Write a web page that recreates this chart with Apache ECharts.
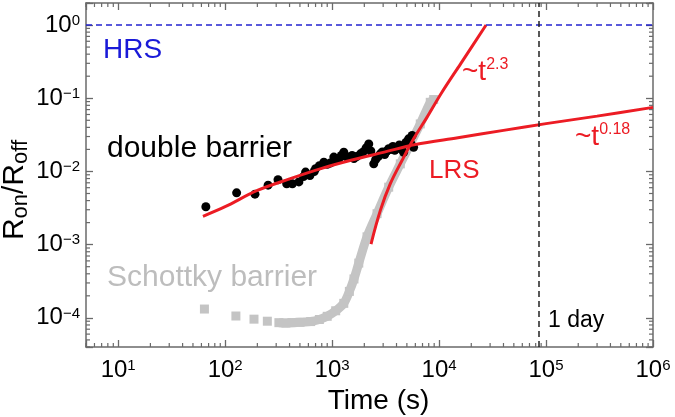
<!DOCTYPE html>
<html><head><meta charset="utf-8">
<script src="https://cdn.jsdelivr.net/npm/echarts@6/dist/echarts.min.js"></script>
<style>html,body{margin:0;padding:0;background:#fff}#c{width:675px;height:417px}</style>
</head><body><div id="c"></div>
<script>
// ---- data ----
const xRange = [5, 1e6];
const yRange = [4e-5, 2];
const hrsLevel = 1;
const oneDay = 86400;

const doubleT = [66,128,190,252,312,376,425,489,540,565,620,680,700,760,837,900,960,1037,1100,1160,1220,1286,1350,1420,1538,1600,1700,1840,1950,2080,2200,2300,2450,2550,2700,2825,2950,3100,3250,3380,3550,3700,3850,4045,4250,4450,4660,4900,5190,5450,5600,5780];
const doubleR = [3.3e-3,5.1e-3,4.9e-3,6.5e-3,7.7e-3,6.8e-3,6.8e-3,7.2e-3,8.5e-3,9.8e-3,8.8e-3,1.0e-2,1.09e-2,1.2e-2,1.34e-2,1.25e-2,1.3e-2,1.57e-2,1.45e-2,1.5e-2,1.65e-2,1.83e-2,1.6e-2,1.55e-2,1.65e-2,1.5e-2,1.6e-2,1.74e-2,1.85e-2,2.1e-2,2.38e-2,1.9e-2,1.27e-2,1.45e-2,1.6e-2,1.74e-2,1.85e-2,1.7e-2,1.9e-2,2.04e-2,2.0e-2,2.2e-2,1.95e-2,2.14e-2,2.3e-2,2.0e-2,1.83e-2,2.5e-2,2.79e-2,2.4e-2,3.1e-2,2.14e-2];

const schottkyT = [64,126,186,248,318,370,420,500,630,760,900,1080,1285,1450,1600,1775,2120,2630,3380,4340,5380,6670,8270,8900];
const schottkyR = [1.32e-4,1.06e-4,9.6e-5,9.0e-5,8.6e-5,8.5e-5,8.6e-5,8.7e-5,8.9e-5,9.5e-5,1.05e-4,1.25e-4,1.58e-4,2.3e-4,3.4e-4,5.6e-4,1.28e-3,2.65e-3,6.1e-3,1.27e-2,2.38e-2,4.46e-2,8.8e-2,9.6e-2];
const schottkyDenseFrom = 4;

const fitSlowT = [62,100,200,400,800,1500,3000,6000,15000,40000,100000,300000,1000000];
const fitSlowR = [2.44e-3,3.3e-3,5.5e-3,7.9e-3,1.1e-2,1.42e-2,1.82e-2,2.33e-2,2.89e-2,3.64e-2,4.5e-2,5.7e-2,7.5e-2];

const fitFastT = [2310,2825,3500,4500,5780,7700,10600,16000,27500];
const fitFastR = [1.02e-3,2.94e-3,6.8e-3,1.41e-2,2.79e-2,5.48e-2,0.12,0.30,1.0];

// ---- styles ----
const RED = '#ec1c24', BLUE = '#2323cf', GRAY = '#c4c4c4', FRAME = '#6a6a6a';
const FONT = '"Liberation Sans", Arial, sans-serif';

function zip(a, b) { return a.map((v, i) => [v, b[i]]); }
function expLabel(v) {
  const e = Math.log10(v), r = Math.round(e);
  if (Math.abs(e - r) > 1e-6) return '';
  return '{b|10}{s|' + (r < 0 ? '\u2212' + (-r) : r) + '}';
}
const tickRich = {
  b: { fontSize: 24, fontFamily: FONT, color: '#000', lineHeight: 24 },
  s: { fontSize: 15, fontFamily: FONT, color: '#000', lineHeight: 13, verticalAlign: 'top' }
};
const axisCommon = {
  type: 'log', logBase: 10,
  axisLine: { show: true, lineStyle: { color: FRAME, width: 1.5 } },
  axisTick: { show: true, inside: true, length: 7, lineStyle: { color: FRAME, width: 1.3 } },
  splitLine: { show: false }, minorTick: { show: false }
};

const chart = echarts.init(document.getElementById('c'), null, { renderer: 'canvas' });
chart.setOption({
  animation: false,
  backgroundColor: '#fff',
  grid: { left: 86, right: 22, top: 3, bottom: 70, containLabel: false, outerBoundsMode: 'none' },
  xAxis: [
    Object.assign({}, axisCommon, {
      position: 'bottom', min: xRange[0], max: xRange[1],
      axisLabel: { formatter: expLabel, rich: tickRich, fontSize: 24, fontFamily: FONT, color: '#000', margin: 11 },
      name: 'Time (s)', nameLocation: 'middle', nameGap: 38,
      nameTextStyle: { fontSize: 28, fontFamily: FONT, color: '#000', lineHeight: 28, padding: [0, 0, 0, 18] }
    }),
    Object.assign({}, axisCommon, {
      position: 'top', min: xRange[0], max: xRange[1], axisLabel: { show: false }
    })
  ],
  yAxis: [
    Object.assign({}, axisCommon, {
      position: 'left', min: yRange[0], max: yRange[1],
      axisLabel: { formatter: expLabel, rich: tickRich, fontSize: 24, fontFamily: FONT, color: '#000', margin: 6 }
    }),
    Object.assign({}, axisCommon, {
      position: 'right', min: yRange[0], max: yRange[1], axisLabel: { show: false }
    })
  ],
  series: [
    {
      type: 'line', name: 'schottky-band', data: zip(schottkyT, schottkyR).slice(schottkyDenseFrom),
      showSymbol: false, smooth: 0.3, lineStyle: { color: GRAY, width: 9 },
      silent: true, z: 1,
      markLine: {
        silent: true, symbol: 'none', label: { show: false },
        data: [
          { yAxis: hrsLevel, lineStyle: { color: BLUE, width: 1.5, type: [6, 4] } },
          { xAxis: oneDay, lineStyle: { color: '#222', width: 1.5, type: [6, 4] } }
        ]
      }
    },
    {
      type: 'scatter', name: 'Schottky barrier', data: zip(schottkyT, schottkyR),
      symbol: 'rect', symbolSize: 9, itemStyle: { color: GRAY, opacity: 1 }, z: 2
    },
    {
      type: 'scatter', name: 'double barrier', data: zip(doubleT, doubleR),
      symbol: 'circle', symbolSize: 9, itemStyle: { color: '#000', opacity: 1 }, z: 3
    },
    {
      type: 'line', name: 'fit t^0.18', data: zip(fitSlowT, fitSlowR), smooth: 0.35,
      showSymbol: false, lineStyle: { color: RED, width: 3 }, z: 4
    },
    {
      type: 'line', name: 'fit t^2.3', data: zip(fitFastT, fitFastR), smooth: 0.35,
      showSymbol: false, lineStyle: { color: RED, width: 3 }, z: 4
    },
    {
      type: 'custom', name: 'minor ticks', silent: true, clip: false, z: 10,
      data: [[1000, 0.01]],
      renderItem: function (params, api) {
        const cs = params.coordSys;
        const L = cs.x, R = cs.x + cs.width, T = cs.y, B = cs.y + cs.height;
        const ch = [];
        const st = { stroke: FRAME, lineWidth: 1.2 };
        const ln = (x1, y1, x2, y2) => ch.push({ type: 'line', shape: { x1, y1, x2, y2 }, style: st });
        for (let e = 0; e <= 6; e++) for (let m = 2; m <= 9; m++) {
          const v = m * Math.pow(10, e);
          if (v < xRange[0] || v > xRange[1]) continue;
          const px = api.coord([v, 0.01])[0];
          ln(px, B, px, B - 4); ln(px, T, px, T + 4);
        }
        for (let e = -5; e <= 0; e++) for (let m = 2; m <= 9; m++) {
          const v = m * Math.pow(10, e);
          if (v < yRange[0] || v > yRange[1]) continue;
          const py = api.coord([1000, v])[1];
          ln(L, py, L + 4, py); ln(R, py, R - 4, py);
        }
        return { type: 'group', children: ch };
      }
    }
  ],
  graphic: [
    { type: 'text', x: 15, y: 190, rotation: Math.PI / 2, style: {
        text: '{m|R}{sub|on}{m|/R}{sub|off}', align: 'center', verticalAlign: 'middle',
        rich: { m: { fontSize: 30, fontFamily: FONT, fill: '#000', color: '#000', lineHeight: 34 },
                sub: { fontSize: 22, fontFamily: FONT, fill: '#000', color: '#000', lineHeight: 16, verticalAlign: 'bottom' } } } },
    { type: 'text', x: 103, y: 36, style: { text: 'HRS', fontSize: 28, fontFamily: FONT, fill: '#1a1ad8' } },
    { type: 'text', x: 107, y: 134, style: { text: 'double barrier', fontSize: 30, fontFamily: FONT, fill: '#000' } },
    { type: 'text', x: 107, y: 263, style: { text: 'Schottky barrier', fontSize: 30, fontFamily: FONT, fill: '#bdbdbd' } },
    { type: 'text', x: 429, y: 158, style: { text: 'LRS', fontSize: 26, fontFamily: FONT, fill: RED } },
    { type: 'text', x: 548, y: 309, style: { text: '1 day', fontSize: 23, fontFamily: FONT, fill: '#000' } },
    { type: 'text', x: 462, y: 57, style: {
        text: '{m|~t}{s|2.3}', verticalAlign: 'top',
        rich: { m: { fontSize: 28, fontFamily: FONT, fill: RED, color: RED, lineHeight: 30 },
                s: { fontSize: 16, fontFamily: FONT, fill: RED, color: RED, lineHeight: 22, verticalAlign: 'top' } } } },
    { type: 'text', x: 575, y: 122, style: {
        text: '{m|~t}{s|0.18}', verticalAlign: 'top',
        rich: { m: { fontSize: 28, fontFamily: FONT, fill: RED, color: RED, lineHeight: 30 },
                s: { fontSize: 16, fontFamily: FONT, fill: RED, color: RED, lineHeight: 22, verticalAlign: 'top' } } } }
  ]
});
</script></body></html>
